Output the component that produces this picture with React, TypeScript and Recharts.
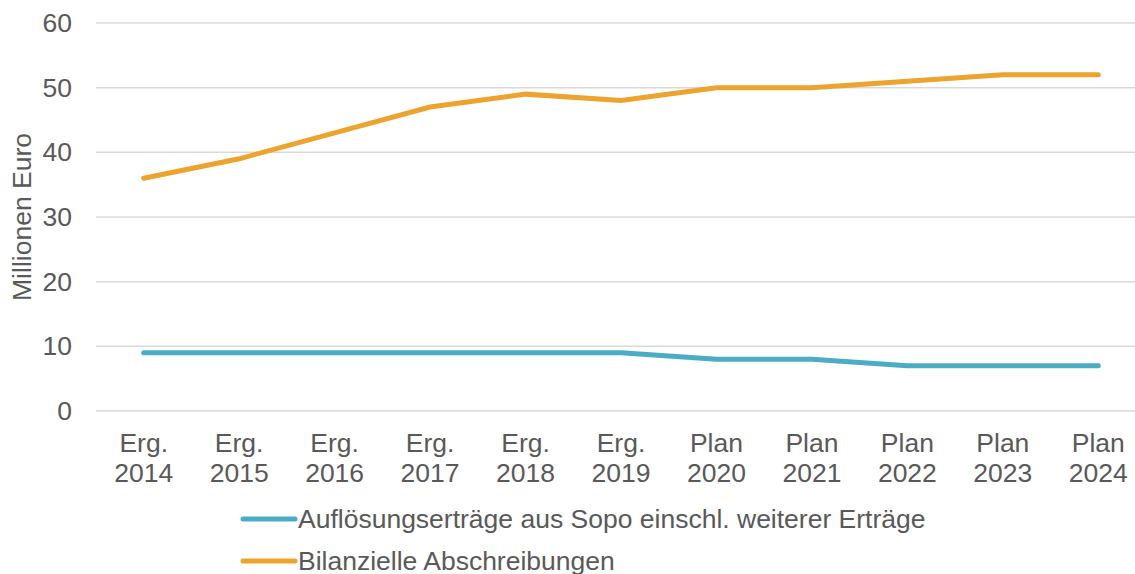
import React from 'react';
import { LineChart, Line, XAxis, YAxis, CartesianGrid, Legend } from 'recharts';

const categories = [
  'Erg. 2014', 'Erg. 2015', 'Erg. 2016', 'Erg. 2017', 'Erg. 2018', 'Erg. 2019',
  'Plan 2020', 'Plan 2021', 'Plan 2022', 'Plan 2023', 'Plan 2024',
];
const sopoValues = [9, 9, 9, 9, 9, 9, 8, 8, 7, 7, 7];
const abschreibungValues = [36, 39, 43, 47, 49, 48, 50, 50, 51, 52, 52];
const yTicks = [0, 10, 20, 30, 40, 50, 60];

const seriesNames = {
  sopo: 'Auflösungserträge aus Sopo einschl. weiterer Erträge',
  abschreibung: 'Bilanzielle Abschreibungen',
};

const TEAL = '#4bacc6';
const ORANGE = '#eda42e';
const TEXT = '#595959';
const FONT = '"Liberation Sans", Arial, sans-serif';
const FS = 26.5;

const data = categories.map((c, i) => ({
  name: c,
  sopo: sopoValues[i],
  abschreibung: abschreibungValues[i],
}));

const XTick = ({ x, y, payload }: any) => {
  const [top, bottom] = String(payload.value).split(' ');
  return (
    <text x={x} y={y} textAnchor="middle" fill={TEXT} fontSize={FS} fontFamily={FONT}>
      <tspan x={x} dy={33}>{top}</tspan>
      <tspan x={x} dy={30}>{bottom}</tspan>
    </text>
  );
};

const YTick = ({ x, y, payload }: any) => (
  <text x={x} y={y} dy={9} textAnchor="end" fill={TEXT} fontSize={FS} fontFamily={FONT}>
    {payload.value}
  </text>
);

const YLabel = ({ viewBox }: any) => {
  const cx = 22;
  const cy = viewBox.y + viewBox.height / 2;
  return (
    <text
      x={cx}
      y={cy}
      transform={`rotate(-90 ${cx} ${cy})`}
      textAnchor="middle"
      dominantBaseline="central"
      fill={TEXT}
      fontSize={FS}
      fontFamily={FONT}
    >
      Millionen Euro
    </text>
  );
};

const LegendContent = () => {
  const rows = [
    { color: TEAL, label: seriesNames.sopo },
    { color: ORANGE, label: seriesNames.abschreibung },
  ];
  return (
    <div style={{ position: 'relative', height: 83, fontFamily: FONT }}>
      {rows.map((r, i) => (
        <div
          key={i}
          style={{
            position: 'absolute',
            left: 240,
            top: 13 + i * 42,
            display: 'flex',
            alignItems: 'center',
            height: 30,
          }}
        >
          <svg width={58} height={10}>
            <line x1={3} y1={5} x2={55} y2={5} stroke={r.color} strokeWidth={5} strokeLinecap="round" />
          </svg>
          <span style={{ color: TEXT, fontSize: FS, whiteSpace: 'nowrap' }}>{r.label}</span>
        </div>
      ))}
    </div>
  );
};

export default function App() {
  return (
    <div
      style={{
        position: 'absolute',
        left: 0,
        top: 0,
        width: 1135,
        height: 574,
        overflow: 'hidden',
        background: '#fff',
      }}
    >
      <LineChart
        width={1150}
        height={574}
        data={data}
        margin={{ top: 23, right: 4, left: 0, bottom: 0 }}
      >
        <CartesianGrid vertical={false} stroke="#d9d9d9" strokeWidth={1.5} />
        <XAxis
          dataKey="name"
          axisLine={false}
          tickLine={false}
          interval={0}
          height={80}
          padding={{ left: 47.7, right: 47.7 }}
          tick={<XTick />}
        />
        <YAxis
          domain={[0, 60]}
          ticks={yTicks}
          axisLine={false}
          tickLine={false}
          width={96}
          tickSize={0}
          tickMargin={24}
          tick={<YTick />}
          label={<YLabel />}
        />
        <Legend verticalAlign="bottom" content={<LegendContent />} />
        <Line
          type="linear"
          dataKey="sopo"
          name={seriesNames.sopo}
          stroke={TEAL}
          strokeWidth={5}
          strokeLinecap="round"
          dot={false}
          isAnimationActive={false}
        />
        <Line
          type="linear"
          dataKey="abschreibung"
          name={seriesNames.abschreibung}
          stroke={ORANGE}
          strokeWidth={5}
          strokeLinecap="round"
          dot={false}
          isAnimationActive={false}
        />
      </LineChart>
    </div>
  );
}
